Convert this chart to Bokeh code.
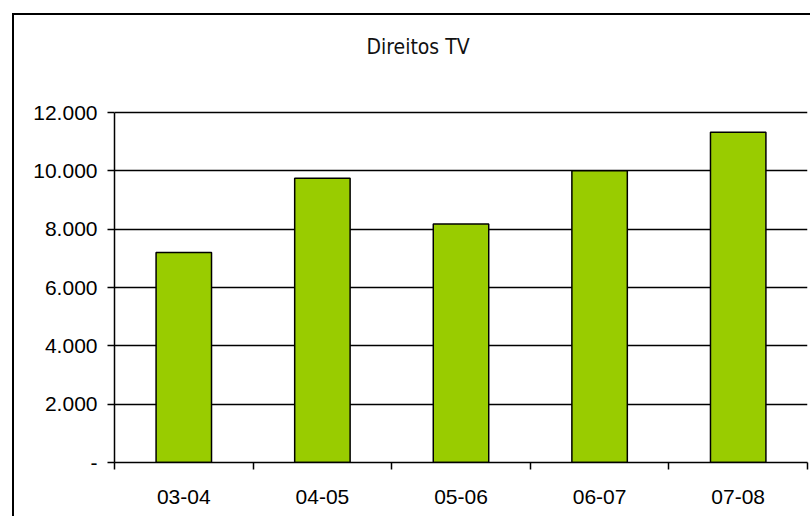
from bokeh.plotting import figure
from bokeh.models import FixedTicker, Range1d, Label, ColumnDataSource
from bokeh.embed import file_html
from bokeh.resources import INLINE

categories = ["03-04", "04-05", "05-06", "06-07", "07-08"]
values = [7200, 9750, 8180, 10000, 11320]
y_ticks = [0, 2000, 4000, 6000, 8000, 10000, 12000]
y_tick_labels = ["-", "2.000", "4.000", "6.000", "8.000", "10.000", "12.000"]
title_text = "Direitos TV"

# axis maximum is 12.000; the frame extends above it to hold the chart title
AXIS_MAX = 12000
FRAME_TOP = 15326
TITLE_Y = 14229
TITLE_X = 2.19

xs = [i + 0.5 for i in range(len(categories))]
src = ColumnDataSource(dict(x=xs, top=values))

p = figure(width=798, height=503, output_backend="svg", toolbar_location=None,
           x_range=Range1d(0, len(categories)), y_range=Range1d(0, FRAME_TOP),
           min_border_left=100, min_border_right=5, min_border_top=0, min_border_bottom=56)
p.styles = {"margin-left": "12px", "margin-top": "13px",
            "border-left": "2px solid black", "border-top": "2px solid black"}

p.vbar(x="x", top="top", width=0.4, bottom=0, source=src,
       fill_color="#99CC00", line_color="black", line_width=1.5)

title = Label(x=TITLE_X, y=TITLE_Y, text=title_text, text_align="center",
              text_baseline="middle", text_font="DejaVu Sans Condensed, DejaVu Sans",
              text_font_size="21px", text_color="#111111")
p.add_layout(title)

p.outline_line_color = None
p.background_fill_color = "white"
p.border_fill_color = "white"

# x axis
p.xaxis.ticker = FixedTicker(ticks=xs, minor_ticks=list(range(len(categories) + 1)))
p.xaxis.major_label_overrides = {x: c for x, c in zip(xs, categories)}
p.xaxis.major_tick_line_color = None
p.xaxis.major_tick_out = 0
p.xaxis.major_tick_in = 0
p.xaxis.minor_tick_line_color = "black"
p.xaxis.minor_tick_line_width = 1.5
p.xaxis.minor_tick_out = 7
p.xaxis.minor_tick_in = 0
p.xaxis.axis_line_width = 1.5
p.xaxis.axis_line_color = "black"
p.xaxis.major_label_standoff = 20
p.xaxis.major_label_text_font = "Liberation Sans"
p.xaxis.major_label_text_font_size = "21px"
p.xaxis.major_label_text_color = "black"

# y axis
p.yaxis.bounds = (0, AXIS_MAX)
p.yaxis.ticker = FixedTicker(ticks=y_ticks, minor_ticks=[])
p.yaxis.major_label_overrides = {v: l for v, l in zip(y_ticks, y_tick_labels)}
p.yaxis.major_tick_out = 7
p.yaxis.major_tick_in = 0
p.yaxis.major_tick_line_width = 1.5
p.yaxis.major_tick_line_color = "black"
p.yaxis.axis_line_width = 1.5
p.yaxis.axis_line_color = "black"
p.yaxis.major_label_standoff = 10
p.yaxis.major_label_text_font = "Liberation Sans"
p.yaxis.major_label_text_font_size = "21px"
p.yaxis.major_label_text_color = "black"

p.xgrid.grid_line_color = None
p.ygrid.ticker = FixedTicker(ticks=y_ticks[1:])
p.ygrid.grid_line_color = "black"
p.ygrid.grid_line_width = 1.3
p.ygrid.grid_line_alpha = 1.0

open("out.html", "w").write(file_html(p, INLINE))
